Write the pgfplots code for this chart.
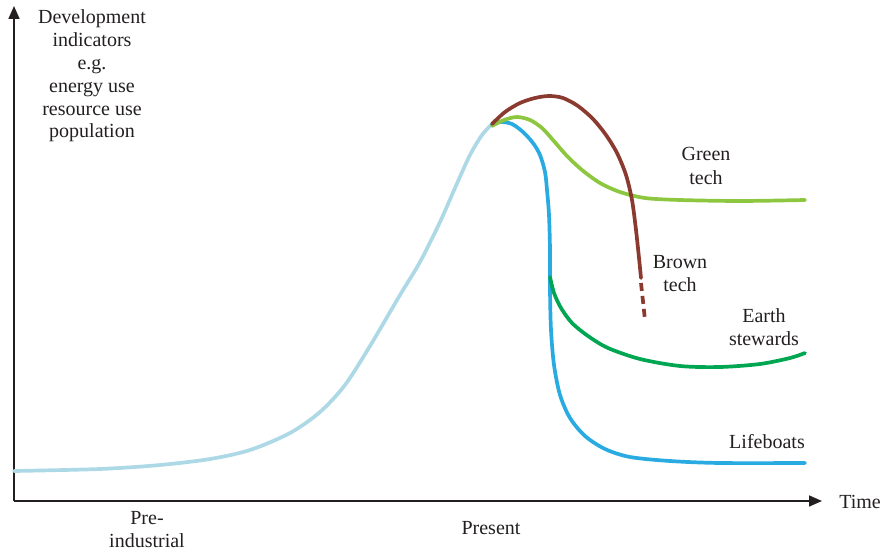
\documentclass[border=0pt]{standalone}
\usepackage{pgfplots}
\pgfplotsset{compat=1.18}
\usepackage{fontspec}
\setmainfont{Liberation Serif}
\usetikzlibrary{arrows.meta}
\definecolor{lblue}{HTML}{ADD8E6}
\definecolor{cblue}{HTML}{29ABE2}
\definecolor{lgreen}{HTML}{8DC63F}
\definecolor{dgreen}{HTML}{00A651}
\definecolor{brown}{HTML}{8B3A30}
\definecolor{txt}{HTML}{231F20}
\tikzset{lab/.style={font=\fontsize{20}{23}\selectfont, text=txt, align=center, inner sep=0pt, text height=13pt, text depth=4pt, yshift=-2pt}}
\begin{document}
\begin{tikzpicture}
\begin{axis}[
  scale only axis, width=886pt, height=551pt,
  xmin=0, xmax=886, ymin=0, ymax=551,
  y dir=reverse,
  hide axis, clip=false,
  every axis plot/.append style={line width=3.7pt, line cap=round, line join=round}
]
% axes
\addplot[draw=txt, line width=1.6pt, -{Triangle[length=13pt,width=11pt]}, line cap=butt] coordinates {(14,501) (822,501)};
\addplot[draw=txt, line width=1.6pt, -{Triangle[length=13pt,width=11pt]}, line cap=butt] coordinates {(14,501) (14,6)};
% light blue history
\addplot[lblue, smooth, tension=0.5] coordinates {
(14,471) (100,469) (160,465) (210,459) (250,450) (290,433) (320,412) (345,385)
(370,346) (400,295) (420,262) (440,222) (455,188) (470,155) (482,135) (492,124)};
% Lifeboats
\addplot[cblue, smooth, tension=0.5] coordinates {
(492,124) (501,122) (512,124) (523,132) (533,143) (540,155) (545,172) (547,190)
(549,215) (550,250) (550,290) (551,330) (554,365) (560,395) (570,418) (585,436)
(605,449) (630,457) (670,461) (720,463) (805,463)};
% Earth stewards
\addplot[dgreen, smooth, tension=0.5] coordinates {
(550,277) (554,293) (561,308) (572,323) (588,336) (608,348) (640,359) (680,366)
(720,367) (760,364) (790,358) (805,353)};
% Green tech
\addplot[lgreen, smooth, tension=0.5] coordinates {
(492,126) (504,120) (517,117) (530,120) (542,128) (553,140) (567,156) (582,170)
(600,183) (620,192) (645,198) (680,200) (740,201) (805,200)};
% Brown tech
\addplot[brown, smooth, tension=0.5] coordinates {
(492,124) (505,112) (520,103) (535,98) (549,96) (563,98) (578,106) (593,119)
(606,135) (617,153) (626,175) (632,200) (636,230) (639,258) (641,278)};
\addplot[brown, line cap=butt, dash pattern=on 8pt off 5pt] coordinates {(641,283) (645,320)};
% labels
\node[lab] at (axis cs:92,17) {Development};
\node[lab] at (axis cs:92,40) {indicators};
\node[lab] at (axis cs:92,63) {e.g.};
\node[lab] at (axis cs:92,86) {energy use};
\node[lab] at (axis cs:92,109) {resource use};
\node[lab] at (axis cs:92,131) {population};
\node[lab] at (axis cs:706,154) {Green};
\node[lab] at (axis cs:706,178) {tech};
\node[lab] at (axis cs:680,262) {Brown};
\node[lab] at (axis cs:680,285) {tech};
\node[lab] at (axis cs:764,316) {Earth};
\node[lab] at (axis cs:764,339) {stewards};
\node[lab] at (axis cs:767,442) {Lifeboats};
\node[lab] at (axis cs:147,518) {Pre-};
\node[lab] at (axis cs:147,541) {industrial};
\node[lab] at (axis cs:491,528) {Present};
\node[lab] at (axis cs:860,502) {Time};
\coordinate (sw) at (axis cs:0,551);
\coordinate (ne) at (axis cs:886,0);
\end{axis}
\pgfresetboundingbox
\path (sw) rectangle (ne);
\end{tikzpicture}
\end{document}
